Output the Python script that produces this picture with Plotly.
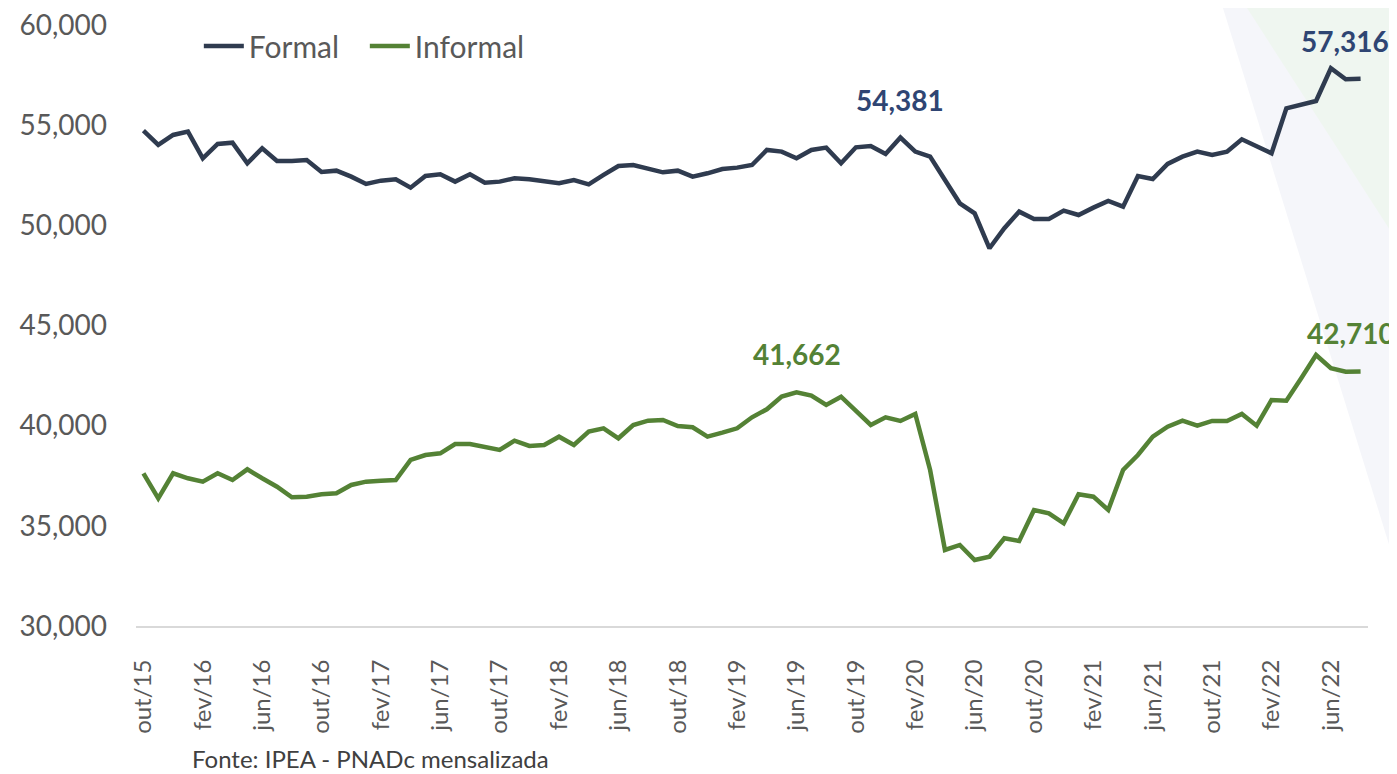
import plotly.graph_objects as go

month_names = ["jan", "fev", "mar", "abr", "mai", "jun", "jul", "ago", "set", "out", "nov", "dez"]

# categories: out/15 .. ago/22
months = []
y, m = 2015, 9
while (y, m) <= (2022, 7):
    months.append(f"{month_names[m]}/{str(y)[2:]}")
    m += 1
    if m == 12:
        m = 0
        y += 1

formal = [54725, 54012, 54511, 54676, 53347, 54061, 54127, 53097, 53847, 53213,
          53213, 53263, 52664, 52730, 52430, 52065, 52230, 52298, 51880, 52464,
          52548, 52181, 52548, 52131, 52181, 52348, 52298, 52181, 52098, 52264,
          52048, 52514, 52963, 53013, 52847, 52647, 52730, 52430, 52597, 52813,
          52880, 53013, 53762, 53679, 53347, 53762, 53878, 53097, 53895, 53962,
          53562, 54381, 53679, 53430, 52264, 51101, 50602, 48855, 49853, 50683,
          50317, 50317, 50733, 50517, 50883, 51216, 50933, 52464, 52314, 53063,
          53430, 53679, 53512, 53679, 54295, 53962, 53596, 55843, 56008, 56208,
          57840, 57290, 57316]

informal = [37623, 36375, 37623, 37373, 37205, 37623, 37288, 37822, 37373, 36954,
            36425, 36455, 36574, 36624, 37039, 37205, 37253, 37288, 38287, 38536,
            38621, 39085, 39085, 38951, 38786, 39250, 38986, 39035, 39450, 39035,
            39700, 39868, 39370, 40034, 40249, 40284, 39984, 39919, 39450, 39650,
            39868, 40418, 40818, 41450, 41662, 41500, 41032, 41447, 40733, 40034,
            40418, 40234, 40583, 37788, 33794, 34044, 33295, 33461, 34378, 34243,
            35791, 35625, 35126, 36574, 36455, 35791, 37788, 38536, 39450, 39949,
            40249, 39999, 40234, 40234, 40583, 39999, 41282, 41248, 42365, 43528,
            42865, 42695, 42710]

tick_labels = months[::4]
y_ticks = [30000, 35000, 40000, 45000, 50000, 55000, 60000]

# labelled points: (category, value)
formal_labels = [("jan/20", 54381), ("ago/22", 57316)]
informal_labels = [("jun/19", 41662), ("ago/22", 42710)]

FORMAL_COLOR = "#2f3b4f"
FORMAL_LABEL = "#2f4573"
INFORMAL_COLOR = "#548235"
TEXT_GRAY = "#595959"
FONT = "Lato"

fig = go.Figure()
fig.add_trace(go.Scatter(x=months, y=formal, mode="lines", name="Formal",
                         line=dict(color=FORMAL_COLOR, width=4.5)))
fig.add_trace(go.Scatter(x=months, y=informal, mode="lines", name="Informal",
                         line=dict(color=INFORMAL_COLOR, width=4.5)))

annotations = []
for (cat, val), xs in zip(formal_labels, [0, -16]):
    annotations.append(dict(x=cat, y=val, xref="x", yref="y", text=f"{val:,}",
                            showarrow=False, yshift=38, xshift=xs,
                            font=dict(family=FONT, size=28, color=FORMAL_LABEL, weight="bold")))
for (cat, val), xs in zip(informal_labels, [0, -10]):
    annotations.append(dict(x=cat, y=val, xref="x", yref="y", text=f"{val:,}",
                            showarrow=False, yshift=38, xshift=xs,
                            font=dict(family=FONT, size=28, color=INFORMAL_COLOR, weight="bold")))
annotations.append(dict(x=0.0438, y=-0.22, xref="paper", yref="paper",
                        xanchor="left", yanchor="middle", showarrow=False,
                        text="Fonte: IPEA - PNADc mensalizada",
                        font=dict(family=FONT, size=24, color="#404040")))

shapes = [
    dict(type="path", xref="paper", yref="paper", layer="below", line=dict(width=0),
         fillcolor="#f5f6fa",
         path="M 0.879 1.05 L 1.03 1.05 L 1.03 0.05 Z"),
    dict(type="path", xref="paper", yref="paper", layer="below", line=dict(width=0),
         fillcolor="#eff6f0",
         path="M 0.895 1.05 L 1.03 1.05 L 1.03 0.62 Z"),
]

# page body adds an 8px offset, so the figure is 8px smaller and left/top margins compensate
fig.update_layout(
    width=1389, height=766,
    margin=dict(l=128, r=29, t=17, b=148, autoexpand=False),
    paper_bgcolor="white", plot_bgcolor="rgba(0,0,0,0)",
    font=dict(family=FONT, color=TEXT_GRAY),
    showlegend=True,
    legend=dict(orientation="h", x=0.051, y=0.965, xanchor="left", yanchor="middle",
                font=dict(family=FONT, size=30, color=TEXT_GRAY),
                entrywidth=111, entrywidthmode="pixels",
                bgcolor="rgba(0,0,0,0)", itemwidth=40, tracegroupgap=0),
    annotations=annotations,
    shapes=shapes,
)
fig.update_xaxes(type="category", range=[-0.5, len(months) - 0.5],
                 tickmode="array", tickvals=tick_labels, ticktext=tick_labels,
                 tickangle=-90, tickfont=dict(family=FONT, size=24, color=TEXT_GRAY),
                 showgrid=False, zeroline=False, showline=True, automargin=False,
                 linecolor="#d9d9d9", linewidth=2, ticks="", ticklabelstandoff=22,
                 ticklabeloverflow="allow")
fig.update_yaxes(range=[30000, 60000], tickmode="array", tickvals=y_ticks,
                 ticktext=[f"{v:,}" for v in y_ticks], automargin=False,
                 tickfont=dict(family=FONT, size=28, color=TEXT_GRAY),
                 showgrid=False, zeroline=False, showline=False, ticks="",
                 ticklabelstandoff=28, ticklabeloverflow="allow")

fig.write_html("out.html")
